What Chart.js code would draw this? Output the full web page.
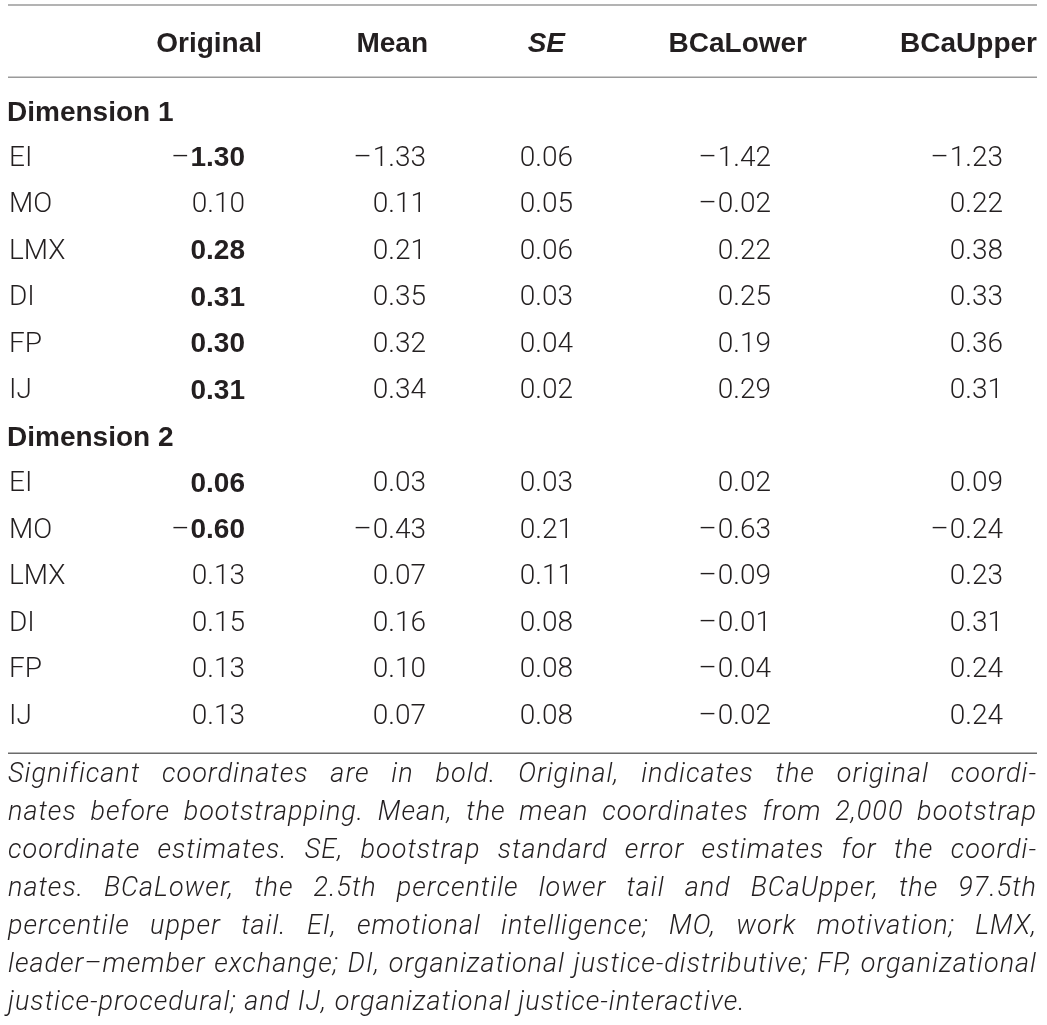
<!DOCTYPE html>
<html>
<head>
<meta charset="utf-8">
<script src="https://cdn.jsdelivr.net/npm/chart.js@4/dist/chart.umd.min.js"></script>
<style>
  html, body { margin: 0; padding: 0; background: #fff; }
  #wrap { position: relative; width: 1047px; height: 1025px; }
  #table { position: absolute; left: 0; top: 0; }
  #note {
    position: absolute; left: 8px; top: 754px; width: 1029px;
    font-family: Roboto, "Liberation Sans", sans-serif;
    font-weight: 300; font-style: italic; font-size: 27px;
    letter-spacing: 1px;
    line-height: 38px; color: #231f20;
  }
  #note div { text-align: justify; text-align-last: justify; }
  #note div.last { text-align-last: left; }
</style>
</head>
<body>
<div id="wrap">
  <canvas id="table" width="1047" height="760"></canvas>
  <div id="note">
    <div>Significant coordinates are in bold. Original, indicates the original coordi-</div>
    <div>nates before bootstrapping. Mean, the mean coordinates from 2,000 bootstrap</div>
    <div>coordinate estimates. SE, bootstrap standard error estimates for the coordi-</div>
    <div>nates. BCaLower, the 2.5th percentile lower tail and BCaUpper, the 97.5th</div>
    <div>percentile upper tail. EI, emotional intelligence; MO, work motivation; LMX,</div>
    <div>leader–member exchange; DI, organizational justice-distributive; FP, organizational</div>
    <div class="last">justice-procedural; and IJ, organizational justice-interactive.</div>
  </div>
</div>
<script>
// table contents
const columns = ["Original", "Mean", "SE", "BCaLower", "BCaUpper"];
const dimensions = ["Dimension 1", "Dimension 2"];
const variables = ["EI", "MO", "LMX", "DI", "FP", "IJ"];

const dim1Original = [-1.30, 0.10, 0.28, 0.31, 0.30, 0.31];
const dim1Mean = [-1.33, 0.11, 0.21, 0.35, 0.32, 0.34];
const dim1SE = [0.06, 0.05, 0.06, 0.03, 0.04, 0.02];
const dim1Lower = [-1.42, -0.02, 0.22, 0.25, 0.19, 0.29];
const dim1Upper = [-1.23, 0.22, 0.38, 0.33, 0.36, 0.31];
const dim1Significant = [true, false, true, true, true, true];

const dim2Original = [0.06, -0.60, 0.13, 0.15, 0.13, 0.13];
const dim2Mean = [0.03, -0.43, 0.07, 0.16, 0.10, 0.07];
const dim2SE = [0.03, 0.21, 0.11, 0.08, 0.08, 0.08];
const dim2Lower = [0.02, -0.63, -0.09, -0.01, -0.04, -0.02];
const dim2Upper = [0.09, -0.24, 0.23, 0.31, 0.24, 0.24];
const dim2Significant = [true, true, false, false, false, false];

// layout (x in canvas px units, y in row units)
const ROW_H = 46.5;
const FIRST_ROW_Y = 112;
const headerRight = [262, 428, 565, 807, 1037];
const valueRight = [245, 426, 573, 771, 1003];
const labelLeft = 9;
const dimLeft = 7;
const ruleLeft = 8, ruleRight = 1037;

const LIGHT = "Roboto, 'Liberation Sans', sans-serif";
const BOLD = "'Liberation Sans', Arial, sans-serif";
const INK = "#231f20";

const dim1Cols = [dim1Original, dim1Mean, dim1SE, dim1Lower, dim1Upper];
const dim2Cols = [dim2Original, dim2Mean, dim2SE, dim2Lower, dim2Upper];

// row index for each block
const blocks = [
  { title: dimensions[0], cols: dim1Cols, sig: dim1Significant, start: 0 },
  { title: dimensions[1], cols: dim2Cols, sig: dim2Significant, start: 1 + variables.length }
];

function fmt(v) {
  return Math.abs(v).toFixed(2);
}

const datasets = [];

// rules
function rule(y, color, width) {
  datasets.push({
    type: "line", kind: "rule",
    data: [{ x: ruleLeft, y: y }, { x: ruleRight, y: y }],
    borderColor: color, borderWidth: width, pointRadius: 0
  });
}
rule(-2.3, "#9a9a9a", 1.5);
rule(-0.75, "#9a9a9a", 1.5);
rule(13.79, "#6b6b6b", 1.6);

// header cells
datasets.push({
  kind: "header",
  data: columns.map((c, i) => ({ x: headerRight[i], y: -1.45, text: c, italic: c === "SE" })),
  pointRadius: 0
});

blocks.forEach(b => {
  datasets.push({
    kind: "dim",
    data: [{ x: dimLeft, y: b.start + 0.02, text: b.title }],
    pointRadius: 0
  });
  datasets.push({
    kind: "label",
    data: variables.map((v, r) => ({ x: labelLeft, y: b.start + 1 + r, text: v })),
    pointRadius: 0
  });
  b.cols.forEach((col, c) => {
    datasets.push({
      kind: "value",
      data: col.map((v, r) => ({
        x: valueRight[c], y: b.start + 1 + r,
        text: fmt(v), neg: v < 0, bold: c === 0 && b.sig[r]
      })),
      pointRadius: 0
    });
  });
});

const cellText = {
  id: "cellText",
  afterDatasetsDraw(chart) {
    const ctx = chart.ctx;
    ctx.save();
    ctx.fillStyle = INK;
    ctx.textBaseline = "middle";
    chart.data.datasets.forEach((ds, i) => {
      if (ds.kind === "rule") return;
      const meta = chart.getDatasetMeta(i);
      meta.data.forEach((el, j) => {
        const d = ds.data[j];
        const x = el.x, y = el.y;
        if (ds.kind === "header") {
          ctx.font = (d.italic ? "italic " : "") + "700 28px " + BOLD;
          ctx.textAlign = "right";
          ctx.fillText(d.text, x, y);
        } else if (ds.kind === "dim") {
          ctx.font = "700 28px " + BOLD;
          ctx.textAlign = "left";
          ctx.fillText(d.text, x, y);
        } else if (ds.kind === "label") {
          ctx.font = "300 28px " + LIGHT;
          ctx.textAlign = "left";
          ctx.fillText(d.text, x, y);
        } else {
          ctx.textAlign = "right";
          ctx.font = d.bold ? "700 28px " + BOLD : "300 28px " + LIGHT;
          ctx.fillText(d.text, x, y);
          if (d.neg) {
            const w = ctx.measureText(d.text).width;
            ctx.font = "300 28px " + LIGHT;
            ctx.fillText("\u2013", x - w - 1, y);
          }
        }
      });
    });
    ctx.restore();
  }
};

new Chart(document.getElementById("table"), {
  type: "scatter",
  data: { datasets: datasets },
  options: {
    responsive: false,
    animation: false,
    layout: { padding: 0 },
    scales: {
      x: { type: "linear", min: 0, max: 1047, display: false },
      y: {
        type: "linear", reverse: true, display: false,
        min: -FIRST_ROW_Y / ROW_H,
        max: (760 - FIRST_ROW_Y) / ROW_H
      }
    },
    plugins: { legend: { display: false }, tooltip: { enabled: false } },
    events: []
  },
  plugins: [cellText]
});
</script>
</body>
</html>
